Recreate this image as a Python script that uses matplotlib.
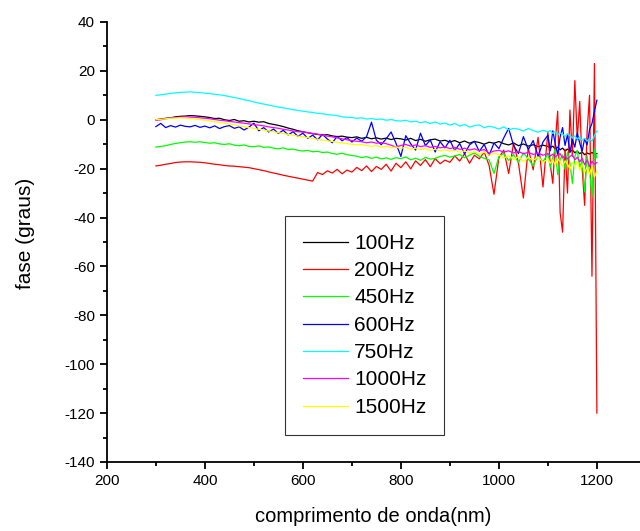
import matplotlib
matplotlib.use("Agg")
import matplotlib.pyplot as plt
from matplotlib.ticker import MultipleLocator

plt.rcParams['font.family'] = ['Liberation Sans', 'DejaVu Sans']
plt.rcParams['axes.unicode_minus'] = False

# wavelength grid (nm): 10 nm steps, then 5 nm steps in the noisy end
wl = list(range(300, 1100, 10)) + list(range(1100, 1201, 5))

f100 = [0.0, 0.3, 0.6, 0.8, 1.2, 1.4, 1.5, 1.7, 1.6, 1.4,
        1.2, 0.9, 0.5, 0.6, 0.0, -0.3, 0.1, -0.6, -0.4, -0.9,
        -0.6, -1.0, -0.8, -1.5, -1.9, -2.3, -2.8, -3.4, -3.9, -4.5,
        -4.9, -5.3, -5.7, -6.0, -6.3, -6.1, -6.6, -6.9, -6.7, -7.1,
        -7.3, -7.0, -7.6, -7.2, -7.8, -7.4, -7.9, -7.5, -8.1, -7.6,
        -7.8, -8.3, -7.6, -8.5, -8.0, -8.8, -8.2, -7.9, -8.7, -8.4,
        -9.1, -8.5, -9.4, -8.7, -9.6, -8.9, -9.3, -10.0, -9.2, -9.6,
        -8.9, -9.8, -10.3, -9.5, -10.6, -9.9, -10.8, -10.2, -11.0, -10.4,
        -10.9, -11.5, -10.8, -11.9, -11.2, -12.3, -11.6, -12.8, -12.0, -13.1,
        -12.4, -13.5, -12.8, -13.9, -13.2, -14.3, -13.6, -14.0, -13.4, -14.1, -13.8]

f200 = [-18.9, -18.6, -18.2, -17.9, -17.5, -17.3, -17.2, -17.2, -17.3, -17.4,
        -17.6, -17.9, -18.2, -18.4, -18.7, -18.9, -19.0, -19.2, -19.4, -19.6,
        -20.0, -20.4, -20.8, -21.3, -21.8, -22.2, -22.7, -23.1, -23.5, -23.9,
        -24.3, -24.7, -25.1, -21.6, -22.4, -20.9, -21.8, -20.3, -22.1, -20.6,
        -21.4, -19.5, -20.8, -18.9, -21.2, -19.1, -20.3, -18.2, -21.0, -17.8,
        -19.6, -17.2, -20.1, -16.8, -18.7, -16.3, -19.2, -15.9, -18.0, -16.5,
        -17.4, -14.8, -16.9, -13.9, -17.8, -14.5, -16.0, -13.2, -18.6, -30.5,
        -15.5, -12.4, -22.0, -9.5, -17.8, -32.0, -11.6, -20.5, -7.2, -27.5,
        -5.0, -18.5, -26.0, -9.0, 3.5, -38.0, -46.0, -12.0, -30.0, 4.0,
        -15.0, 16.0, -8.0, 7.5, -20.0, -35.0, -5.0, 10.0, -64.0, 23.0, -120.0]

f450 = [-11.2, -10.9, -10.6, -10.1, -9.7, -9.4, -9.1, -9.0, -9.2, -9.0,
        -9.3, -9.6, -9.4, -9.9, -10.1, -9.8, -10.4, -10.6, -10.3, -10.9,
        -11.0, -10.7, -11.3, -11.1, -11.6, -11.9, -11.5, -12.2, -12.0, -12.5,
        -12.8, -12.5, -13.1, -12.9, -13.4, -13.2, -13.8, -14.1, -13.7, -14.3,
        -14.6, -14.9, -15.5, -15.1, -15.8, -15.3, -16.0, -15.6, -16.2, -15.5,
        -15.9, -15.2, -16.4, -15.7, -16.6, -15.4, -16.1, -15.8, -15.0, -14.6,
        -15.3, -14.8, -14.2, -15.6, -14.5, -13.6, -14.9, -15.8, -16.4, -22.0,
        -15.1, -13.8, -16.7, -14.2, -17.5, -13.5, -16.0, -18.9, -14.6, -17.2,
        -13.9, -19.6, -15.3, -12.0, -22.5, -16.1, -14.4, -20.2, -13.2, -17.8,
        -26.0, -15.0, -12.5, -19.4, -16.6, -29.5, -14.8, -21.0, -31.5, -12.0, -15.5]

f600 = [-2.8, -1.5, -3.2, -2.4, -3.0, -2.2, -2.7, -2.9, -2.3, -3.1,
        -2.6, -3.3, -2.5, -3.6, -2.8, -2.4, -3.5, -2.9, -4.2, -3.0,
        -1.4, -4.5, -3.2, -5.0, -3.8, -5.6, -4.3, -6.2, -4.9, -6.8,
        -5.5, -7.6, -6.3, -8.2, -6.0, -7.9, -9.4, -6.8, -8.6, -7.3,
        -9.1, -7.5, -8.8, -6.9, -1.0, -8.4, -10.2, -7.8, -5.0, -9.6,
        -15.0, -6.5, -9.8, -12.4, -5.5, -10.6, -8.3, -13.2, -9.0, -11.5,
        -8.4, -12.6, -9.7, -14.0, -10.3, -8.8, -12.9, -10.1, -14.6, -9.5,
        -11.8, -7.4, -3.5, -10.6, -13.8, -6.9, -12.2, -8.5, -15.0, -9.1,
        -6.3, -12.7, -4.5, -9.8, -14.2, -7.0, -3.2, -10.5, -6.1, -13.4,
        -8.0, -11.2, -5.4, -9.6, -12.8, -7.7, -10.3, -4.0, -1.5, 3.5, 8.0]

f750 = [10.0, 10.2, 10.5, 10.8, 11.0, 11.2, 11.3, 11.4, 11.2, 11.1,
        10.9, 10.7, 10.4, 10.2, 9.9, 9.5, 9.1, 8.7, 8.2, 7.8,
        7.3, 6.8, 6.4, 6.0, 5.6, 5.2, 4.9, 4.5, 4.1, 3.8,
        3.5, 3.2, 3.0, 2.6, 2.5, 2.1, 1.9, 1.7, 1.2, 1.0,
        0.9, 0.6, 0.8, 0.3, 0.5, 0.1, 0.3, -0.2, 0.1, -0.4,
        -0.5, -0.2, -0.9, -0.6, -1.2, -0.8, -1.5, -0.9, -1.8, -1.3,
        -2.2, -1.5, -2.6, -1.9, -3.0, -2.4, -2.1, -3.3, -2.6, -3.1,
        -3.8, -2.9, -4.2, -3.5, -3.9, -4.6, -3.6, -4.4, -5.1, -4.3,
        -5.0, -4.4, -5.6, -4.8, -6.2, -5.3, -5.9, -6.8, -5.7, -6.5,
        -7.4, -6.6, -7.9, -7.1, -8.4, -7.6, -8.7, -7.9, -8.8, -6.5, -4.5]

f1000 = [-0.3, 0.0, 0.4, 0.7, 0.9, 1.1, 1.2, 1.1, 1.0, 0.8,
         0.6, 0.4, 0.1, -0.2, -0.4, -0.7, -0.9, -1.2, -1.4, -1.7,
         -2.0, -2.2, -2.5, -2.9, -3.2, -3.5, -3.9, -4.2, -4.6, -4.9,
         -5.0, -5.3, -5.6, -5.9, -6.3, -6.7, -7.0, -7.4, -7.8, -8.2,
         -8.5, -8.8, -9.0, -9.4, -9.1, -9.6, -9.3, -9.8, -10.4, -11.2,
         -10.5, -10.1, -10.8, -10.3, -11.0, -10.6, -11.3, -10.9, -11.5, -11.1,
         -11.8, -11.3, -12.1, -11.6, -12.4, -11.9, -12.7, -12.2, -13.6, -12.8,
         -12.5, -13.2, -12.7, -13.6, -13.0, -13.9, -13.3, -14.2, -13.6, -14.5,
         -13.8, -14.8, -14.1, -15.2, -14.4, -13.9, -15.6, -14.7, -16.1, -15.0,
         -14.3, -16.4, -15.3, -17.2, -15.8, -18.4, -16.5, -19.1, -17.0, -18.2, -17.5]

f1500 = [0.0, 0.2, 0.4, 0.6, 0.7, 0.8, 0.7, 0.5, 0.3, 0.1,
         -0.2, -0.5, -0.8, -1.1, -1.4, -1.8, -2.1, -2.5, -2.8, -3.2,
         -3.5, -3.9, -4.2, -4.6, -4.9, -5.3, -5.6, -6.0, -6.3, -6.7,
         -7.0, -7.3, -7.6, -8.0, -8.3, -8.6, -8.9, -9.2, -9.5, -9.8,
         -10.0, -10.3, -10.1, -10.6, -10.9, -10.5, -11.2, -10.8, -11.5, -11.1,
         -11.7, -11.3, -12.0, -11.6, -12.2, -11.8, -12.5, -12.1, -12.8, -12.3,
         -12.9, -12.4, -13.3, -12.7, -13.6, -13.0, -14.1, -13.3, -14.5, -13.7,
         -14.2, -15.8, -14.6, -16.3, -15.0, -17.1, -15.4, -16.6, -15.2, -17.4,
         -16.0, -17.8, -16.4, -18.5, -15.9, -17.2, -19.0, -16.8, -18.1, -20.3,
         -17.5, -19.2, -16.9, -20.8, -18.0, -21.5, -19.3, -22.6, -18.7, -23.4, -21.0]

labels = ['100Hz', '200Hz', '450Hz', '600Hz', '750Hz', '1000Hz', '1500Hz']
colors = ['black', 'red', '#00ff00', 'blue', 'cyan', 'magenta', 'yellow']
series = [f100, f200, f450, f600, f750, f1000, f1500]

fig = plt.figure(figsize=(6.4, 5.31), dpi=100)
ax = fig.add_axes([0.167, 0.130, 0.833, 0.8286])

for s, c, lab in zip(series, colors, labels):
    ax.plot(wl, s, color=c, lw=0.9, label=lab)

ax.set_xlim(200, 1288)
ax.set_ylim(-140, 40)
ax.xaxis.set_major_locator(MultipleLocator(200))
ax.xaxis.set_minor_locator(MultipleLocator(100))
ax.yaxis.set_major_locator(MultipleLocator(20))
ax.yaxis.set_minor_locator(MultipleLocator(10))
ax.spines['top'].set_visible(False)
ax.spines['right'].set_visible(False)
for sp in ['left', 'bottom']:
    ax.spines[sp].set_linewidth(1.3)
ax.tick_params(which='major', direction='out', length=5, width=1.3, labelsize=11)
ax.tick_params(which='minor', direction='out', length=3, width=1.3)

ax.set_xlabel('comprimento de onda(nm)', fontsize=14.5, labelpad=14)
ax.set_ylabel('fase (graus)', fontsize=15)
ax.yaxis.set_label_coords(-0.135, 0.52)

leg = ax.legend(loc='upper left', bbox_to_anchor=(0.445, 0.593),
                bbox_transform=fig.transFigure, borderaxespad=0,
                fontsize=15, frameon=True, fancybox=False,
                handlelength=2.2, handletextpad=0.28, labelspacing=0.40,
                borderpad=0.85)
leg.get_frame().set_edgecolor('black')
leg.get_frame().set_linewidth(0.8)

fig.savefig('out.png', dpi=100)
